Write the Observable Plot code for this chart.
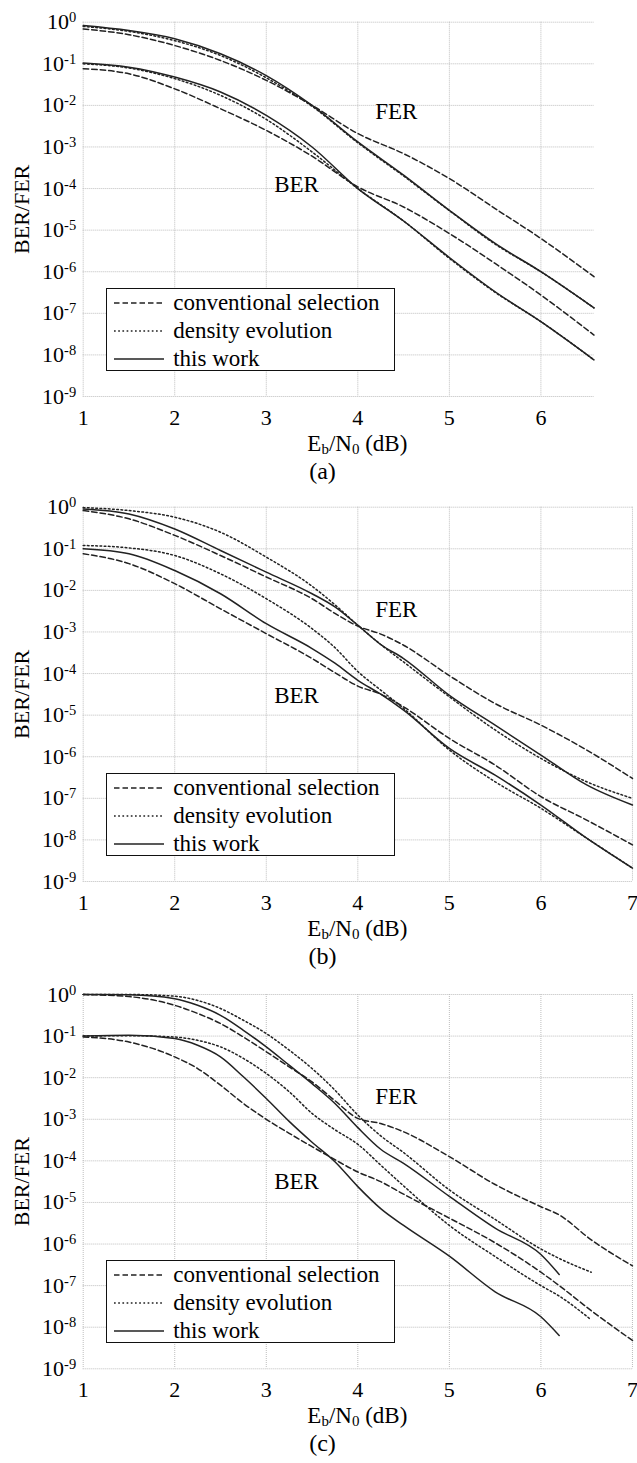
<!DOCTYPE html>
<html>
<head>
<meta charset="utf-8">
<script src="https://cdn.jsdelivr.net/npm/d3@7"></script>
<script src="https://cdn.jsdelivr.net/npm/@observablehq/plot@0.6"></script>
<style>
  html, body { margin: 0; padding: 0; background: #fff; }
  body { width: 637px; font-family: "Liberation Serif", "Times New Roman", serif; color: #000; }
  .panel { position: relative; width: 637px; overflow: hidden; }
  .panel > svg { position: absolute; left: 0; top: 0; }
  .panel svg, .panel svg text, .panel svg tspan { font-family: "Liberation Serif", "Times New Roman", serif !important; }
  .legend { position: absolute; background: #fff; border: 1.3px solid #111; box-sizing: border-box; }
  .legend .row { position: absolute; left: 0; height: 28px; width: 100%; }
  .legend .row svg { position: absolute; left: 6.5px; top: 12px; }
  .legend .row span { position: absolute; left: 66.5px; top: 0; line-height: 28px; font-size: 23px; white-space: nowrap; font-family: "Liberation Serif", "Times New Roman", serif; }
  .xlabel { position: absolute; font-size: 23px; white-space: nowrap; transform: translate(-50%, -50%); line-height: 1; font-family: "Liberation Serif", "Times New Roman", serif; }
  .xlabel .sub { font-size: 15px; position: relative; top: 3px; }
  .caption { position: absolute; font-size: 24px; white-space: nowrap; transform: translate(-50%, -50%); line-height: 1; font-family: "Liberation Serif", "Times New Roman", serif; }
</style>
</head>
<body>
<div id="root"></div>
<script>
// ---------- data ----------
const legendLabels = ["conventional selection", "density evolution", "this work"];
const noteText = ["FER", "BER"];
const noteX = [4.42, 3.33];

const yTicks = [1, 1e-1, 1e-2, 1e-3, 1e-4, 1e-5, 1e-6, 1e-7, 1e-8, 1e-9];
const xTicksA = [1, 2, 3, 4, 5, 6];
const xTicksBC = [1, 2, 3, 4, 5, 6, 7];

// (a)
const aX       = [1, 1.5, 2, 2.5, 3, 3.5, 4, 4.5, 5, 5.5, 6, 6.58];
const aFerConv = [6.9e-1, 5.0e-1, 2.75e-1, 1.2e-1, 4.0e-2, 1.0e-2, 2.1e-3, 6.9e-4, 1.74e-4, 3.3e-5, 6.3e-6, 7.6e-7];
const aFerDens = [7.9e-1, 6.0e-1, 3.6e-1, 1.58e-1, 4.6e-2, 9.5e-3, 1.26e-3, 2.0e-4, 2.95e-5, 4.6e-6, 1.0e-6, 1.35e-7];
const aFerOurs = [8.3e-1, 6.3e-1, 4.0e-1, 1.74e-1, 5.2e-2, 1.0e-2, 1.32e-3, 2.1e-4, 3.0e-5, 4.8e-6, 1.0e-6, 1.35e-7];
const aBerConv = [7.6e-2, 5.75e-2, 2.5e-2, 8.3e-3, 2.5e-3, 6.0e-4, 1.1e-4, 3.6e-5, 8.3e-6, 1.58e-6, 2.75e-7, 3.0e-8];
const aBerDens = [1.0e-1, 7.9e-2, 4.4e-2, 1.74e-2, 4.6e-3, 7.6e-4, 1.0e-4, 1.66e-5, 2.1e-6, 3.2e-7, 6.3e-8, 7.6e-9];
const aBerOurs = [1.05e-1, 8.3e-2, 4.8e-2, 2.1e-2, 5.75e-3, 1.0e-3, 1.0e-4, 1.66e-5, 2.2e-6, 3.3e-7, 6.3e-8, 7.6e-9];
const aNoteY   = [6.9e-3, 1.26e-4];

// (b)
const bX       = [1, 1.5, 2, 2.5, 3, 3.5, 3.75, 4, 4.25, 4.5, 5, 5.5, 6, 6.5, 7];
const bFerConv = [8.3e-1, 5.25e-1, 2.1e-1, 6.9e-2, 2.1e-2, 6.3e-3, 2.8e-3, 1.38e-3, 8.9e-4, 4.8e-4, 8.9e-5, 1.9e-5, 5.75e-6, 1.45e-6, 3.0e-7];
const bFerDens = [9.8e-1, 8.3e-1, 5.75e-1, 2.5e-1, 6.3e-2, 1.26e-2, 4.5e-3, 1.45e-3, 5.0e-4, 1.9e-4, 2.75e-5, 4.4e-6, 9.1e-7, 2.5e-7, 1.0e-7];
const bFerOurs = [9.1e-1, 6.9e-1, 3.0e-1, 9.1e-2, 2.75e-2, 8.3e-3, 4.0e-3, 1.45e-3, 5.0e-4, 2.3e-4, 3.0e-5, 5.75e-6, 1.1e-6, 2.1e-7, 6.9e-8];
const bBerConv = [7.6e-2, 4.4e-2, 1.45e-2, 3.6e-3, 9.1e-4, 2.3e-4, 1.05e-4, 5.0e-5, 3.2e-5, 1.58e-5, 2.75e-6, 6.3e-7, 1.1e-7, 3.0e-8, 7.6e-9];
const bBerDens = [1.2e-1, 1.05e-1, 6.9e-2, 2.5e-2, 6.3e-3, 1.2e-3, 4.2e-4, 1.12e-4, 4.0e-5, 1.45e-5, 1.45e-6, 2.5e-7, 5.75e-8, 1.1e-8, 2.1e-9];
const bBerOurs = [1.0e-1, 7.6e-2, 3.0e-2, 8.3e-3, 1.58e-3, 4.0e-4, 1.78e-4, 6.9e-5, 3.2e-5, 1.32e-5, 1.58e-6, 3.6e-7, 6.9e-8, 1.1e-8, 2.1e-9];
const bNoteY   = [3.5e-3, 2.9e-5];

// (c)
const cX       = [1, 1.5, 2, 2.25, 2.5, 2.75, 3, 3.25, 3.5, 3.75, 4, 4.25, 4.5, 5, 5.5, 6, 6.2, 6.55, 7];
const cFerConv = [1.0, 8.9e-1, 5.5e-1, 3.5e-1, 2.0e-1, 9.5e-2, 4.2e-2, 1.82e-2, 7.9e-3, 2.8e-3, 1.05e-3, 7.9e-4, 5.0e-4, 1.26e-4, 2.7e-5, 7.9e-6, 5.0e-6, 1.26e-6, 3.0e-7];
const cFerDens = [1.0, 1.0, 9.1e-1, 7.2e-1, 4.6e-1, 2.4e-1, 1.15e-1, 4.6e-2, 1.66e-2, 5.0e-3, 1.26e-3, 4.0e-4, 1.58e-4, 2.0e-5, 3.9e-6, 7.6e-7, 4.5e-7, 2.1e-7, null];
const cFerOurs = [1.0, 9.8e-1, 7.9e-1, 5.5e-1, 3.16e-1, 1.38e-1, 5.5e-2, 2.0e-2, 7.2e-3, 2.4e-3, 6.3e-4, 1.9e-4, 8.7e-5, 1.4e-5, 2.4e-6, 5.6e-7, 1.86e-7, null, null];
const cBerConv = [9.5e-2, 7.2e-2, 3.16e-2, 1.66e-2, 6.6e-3, 2.4e-3, 1.0e-3, 4.6e-4, 2.2e-4, 1.07e-4, 5.4e-5, 3.16e-5, 1.58e-5, 4.2e-6, 1.07e-6, 2.1e-7, 1.0e-7, 2.5e-8, 4.8e-9];
const cBerDens = [1.0e-1, 1.02e-1, 9.5e-2, 7.9e-2, 5.5e-2, 2.9e-2, 1.26e-2, 4.6e-3, 1.38e-3, 5.6e-4, 2.5e-4, 7.9e-5, 2.5e-5, 2.8e-6, 5.0e-7, 1.0e-7, 5.6e-8, 1.5e-8, null];
const cBerOurs = [1.0e-1, 1.05e-1, 8.7e-2, 6.0e-2, 3.16e-2, 1.05e-2, 3.16e-3, 8.9e-4, 2.8e-4, 9.5e-5, 2.4e-5, 7.1e-6, 2.8e-6, 5.1e-7, 7.1e-8, 1.78e-8, 6.3e-9, null, null];
const cNoteY   = [3.5e-3, 3.16e-5];

// ---------- layout / style ----------
const LINE = "#222";
const LW = 1.5;
const DASH = "5.5,3";
const DOT = "1.7,2.5";
const FONT = "Liberation Serif, Times New Roman, serif";
const SVG_H = 440;
const PLOT_H = 374.3;
const LEFT = 82.7;

const panels = [
  {id: "a", height: 485, top: 21.7, x: aX, xmax: 6.58, right: 637 - (LEFT + 5.58 * 91.54), xTicks: xTicksA,
   series: [["FER","conv",aFerConv],["FER","dens",aFerDens],["FER","ours",aFerOurs],["BER","conv",aBerConv],["BER","dens",aBerDens],["BER","ours",aBerOurs]],
   noteY: aNoteY},
  {id: "b", height: 487, top: 21.7, x: bX, xmax: 7, right: 637 - (LEFT + 6 * 91.54), xTicks: xTicksBC,
   series: [["FER","conv",bFerConv],["FER","dens",bFerDens],["FER","ours",bFerOurs],["BER","conv",bBerConv],["BER","dens",bBerDens],["BER","ours",bBerOurs]],
   noteY: bNoteY},
  {id: "c", height: 491, top: 22, x: cX, xmax: 7, right: 637 - (LEFT + 6 * 91.54), xTicks: xTicksBC,
   series: [["FER","conv",cFerConv],["FER","dens",cFerDens],["FER","ours",cFerOurs],["BER","conv",cBerConv],["BER","dens",cBerDens],["BER","ours",cBerOurs]],
   noteY: cNoteY}
];

const svgNS = "http://www.w3.org/2000/svg";
const root = document.getElementById("root");

function sampleLine(dash) {
  const s = document.createElementNS(svgNS, "svg");
  s.setAttribute("width", 52); s.setAttribute("height", 4);
  const l = document.createElementNS(svgNS, "line");
  l.setAttribute("x1", 1); l.setAttribute("x2", 51); l.setAttribute("y1", 2); l.setAttribute("y2", 2);
  l.setAttribute("stroke", LINE); l.setAttribute("stroke-width", LW);
  if (dash) l.setAttribute("stroke-dasharray", dash);
  s.appendChild(l);
  return s;
}

for (const p of panels) {
  const rows = [];
  for (const [metric, method, values] of p.series) {
    values.forEach((v, i) => { if (v != null) rows.push({x: p.x[i], y: v, metric, method}); });
  }
  const notes = noteText.map((t, i) => ({text: t, x: noteX[i], y: p.noteY[i]}));
  const lineOpts = {x: "x", y: "y", z: "metric", stroke: LINE, strokeWidth: LW, curve: "monotone-x"};

  const chart = Plot.plot({
    width: 637,
    height: SVG_H,
    marginTop: p.top,
    marginLeft: LEFT,
    marginRight: p.right,
    marginBottom: SVG_H - p.top - PLOT_H,
    x: {domain: [1, p.xmax]},
    y: {type: "log", domain: [1e-9, 1]},
    style: {fontFamily: FONT, fontSize: "22px", color: "#000", background: "transparent", overflow: "visible"},
    marks: [
      Plot.gridX(p.xTicks, {stroke: "#bdbdbd", strokeOpacity: 1, strokeWidth: 1, strokeDasharray: "1,1"}),
      Plot.gridY(yTicks, {stroke: "#bdbdbd", strokeOpacity: 1, strokeWidth: 1, strokeDasharray: "1,1"}),
      Plot.axisX(p.xTicks, {tickSize: 0, tickPadding: 13, label: null, fontSize: 22, tickFormat: d => String(d)}),
      Plot.axisY(yTicks, {tickSize: 0, tickPadding: 7, fontSize: 22,
        tickFormat: d => "10^" + Math.round(Math.log10(d)),
        label: "BER/FER", labelAnchor: "center", labelArrow: "none", labelOffset: 70}),
      Plot.line(rows.filter(d => d.method === "conv"), {...lineOpts, strokeDasharray: DASH}),
      Plot.line(rows.filter(d => d.method === "dens"), {...lineOpts, strokeDasharray: DOT}),
      Plot.line(rows.filter(d => d.method === "ours"), {...lineOpts}),
      Plot.text(notes, {x: "x", y: "y", text: "text", fontSize: 23, fill: "#000"})
    ]
  });
  chart.setAttribute("font-family", FONT);

  // superscript exponents on the y tick labels
  chart.querySelectorAll('g[aria-label="y-axis tick label"] text').forEach(t => {
    const s = t.textContent;
    if (!s.includes("^")) return;
    const [base, exp] = s.split("^");
    t.textContent = base;
    const ts = document.createElementNS(svgNS, "tspan");
    ts.setAttribute("dy", "-7");
    ts.setAttribute("font-size", "14.5");
    ts.textContent = exp;
    t.appendChild(ts);
  });

  const div = document.createElement("div");
  div.className = "panel";
  div.style.height = p.height + "px";
  div.appendChild(chart);

  // legend
  const lg = document.createElement("div");
  lg.className = "legend";
  lg.style.left = "105.7px";
  lg.style.top = (p.top + 266) + "px";
  lg.style.width = "289px";
  lg.style.height = "83px";
  const dashes = [DASH, DOT, null];
  legendLabels.forEach((lab, i) => {
    const r = document.createElement("div");
    r.className = "row";
    r.style.top = (i * 28) + "px";
    r.appendChild(sampleLine(dashes[i]));
    const sp = document.createElement("span");
    sp.textContent = lab;
    r.appendChild(sp);
    lg.appendChild(r);
  });
  div.appendChild(lg);

  // x label
  const xl = document.createElement("div");
  xl.className = "xlabel";
  xl.style.left = (LEFT + 3 * 91.54) + "px";
  xl.style.top = (p.top + 421) + "px";
  xl.innerHTML = 'E<span class="sub">b</span>/N<span class="sub">0</span> (dB)';
  div.appendChild(xl);

  // caption
  const cap = document.createElement("div");
  cap.className = "caption";
  cap.style.left = "322.5px";
  cap.style.top = (p.top + 449) + "px";
  cap.textContent = "(" + p.id + ")";
  div.appendChild(cap);

  root.appendChild(div);
}
</script>
</body>
</html>
